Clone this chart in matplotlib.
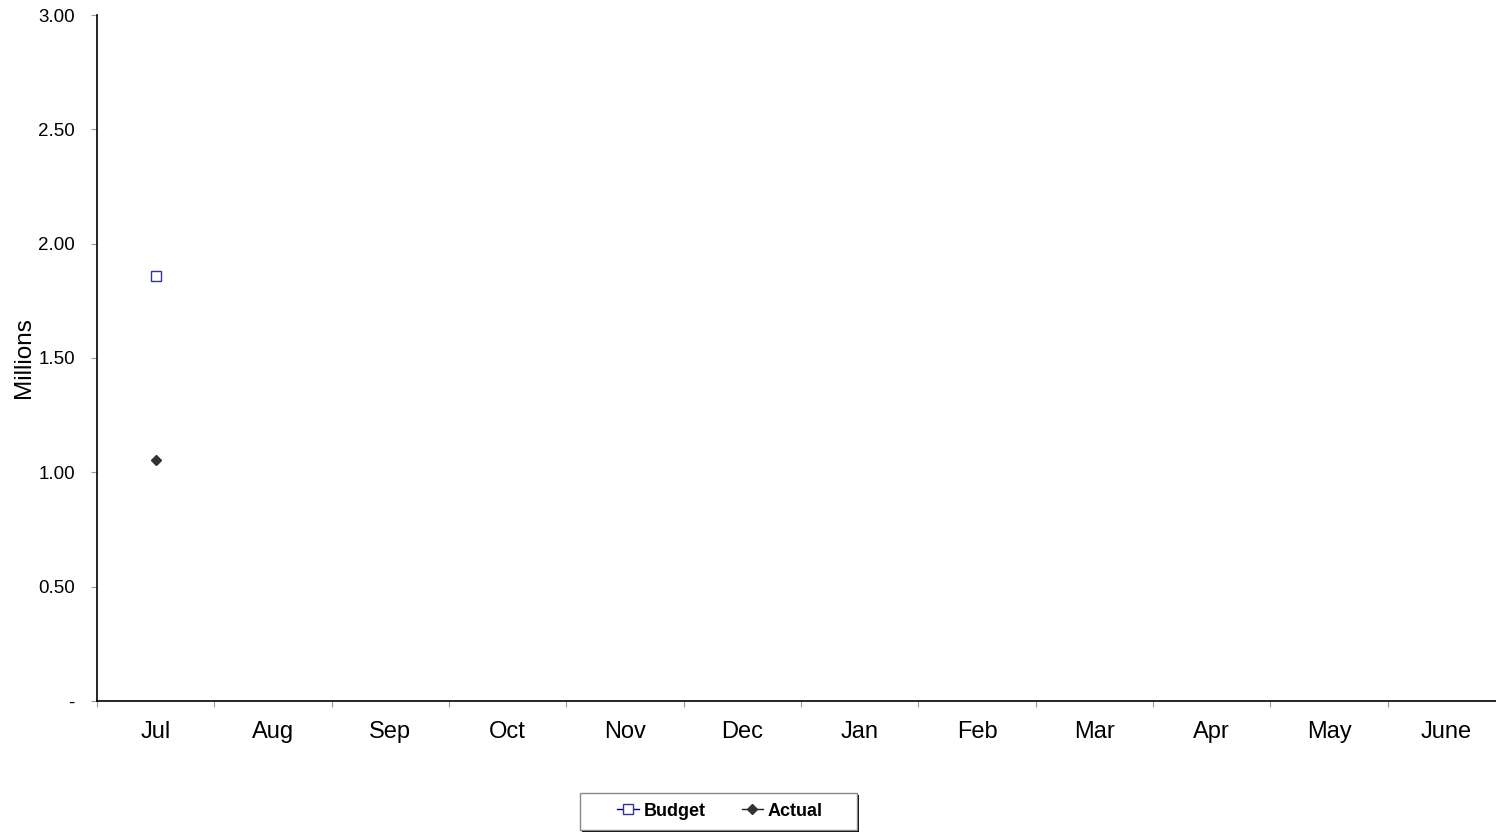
import matplotlib
matplotlib.use('Agg')
from matplotlib import pyplot as plt
from matplotlib.patches import Rectangle

# Monthly budget vs actual (millions), only July filled in so far
months = ['Jul', 'Aug', 'Sep', 'Oct', 'Nov', 'Dec',
          'Jan', 'Feb', 'Mar', 'Apr', 'May', 'June']
budget = [1.86]
actual = [1.055]
y_ticks = [0, 0.5, 1.0, 1.5, 2.0, 2.5, 3.0]

plt.rcParams['font.family'] = ['Liberation Sans', 'DejaVu Sans']

fig = plt.figure(figsize=(14.96, 8.32), dpi=100)
ax = fig.add_axes([97 / 1496, 1 - 701 / 832, 1408 / 1496, 686 / 832])

x_budget = list(range(len(budget)))
x_actual = list(range(len(actual)))
ax.plot(x_budget, budget, color='#000080', linewidth=1, marker='s',
        markersize=7, markerfacecolor='white', markeredgecolor='#333399',
        markeredgewidth=1, label='Budget')
ax.plot(x_actual, actual, color='#222222', linewidth=1, marker='D',
        markersize=5, markerfacecolor='#333333', markeredgecolor='#333333',
        label='Actual')

ax.set_xlim(-0.5, len(months) - 0.5)
ax.set_ylim(0, 3.0)

# category boundaries get tick marks, month names sit between them
ax.set_xticks([i - 0.5 for i in range(len(months) + 1)])
ax.set_xticklabels([])
ax.set_xticks(range(len(months)), minor=True)
ax.set_xticklabels(months, minor=True, fontsize=17)
ax.tick_params(axis='x', which='major', length=4, color='#999999', direction='out')
ax.tick_params(axis='x', which='minor', length=0, pad=14.5)

ax.set_yticks(y_ticks)
ax.set_yticklabels(['-' if v == 0 else '%.2f' % v for v in y_ticks], fontsize=13.5)
ax.tick_params(axis='y', length=4, color='#999999', direction='out', pad=12)

ax.set_ylabel('Millions', fontsize=17.5)
ax.yaxis.set_label_coords(-0.044, 0.5)

ax.spines['top'].set_visible(False)
ax.spines['right'].set_visible(False)
ax.spines['left'].set_linewidth(1.2)
ax.spines['bottom'].set_linewidth(1.2)

# legend box with a hard shadow, drawn in pixel units of the figure
W, H = 1496.0, 832.0
fig.patches.append(Rectangle((582 / W, 1 - 832 / H), 277 / W, 37 / H,
                             transform=fig.transFigure, facecolor='black',
                             edgecolor='none', zorder=1))
fig.patches.append(Rectangle((580 / W, 1 - 830 / H), 277 / W, 37 / H,
                             transform=fig.transFigure, facecolor='white',
                             edgecolor='#888888', linewidth=1, zorder=2))

leg = fig.legend(loc='center', bbox_to_anchor=(720 / W, 1 - 811 / H),
                 ncol=2, frameon=False,
                 prop={'weight': 'bold', 'size': 13}, handlelength=1.2,
                 handletextpad=0.25, columnspacing=2.0, borderpad=0.2,
                 markerscale=1.0)
leg.set_zorder(3)

fig.savefig('out.png', dpi=100)
